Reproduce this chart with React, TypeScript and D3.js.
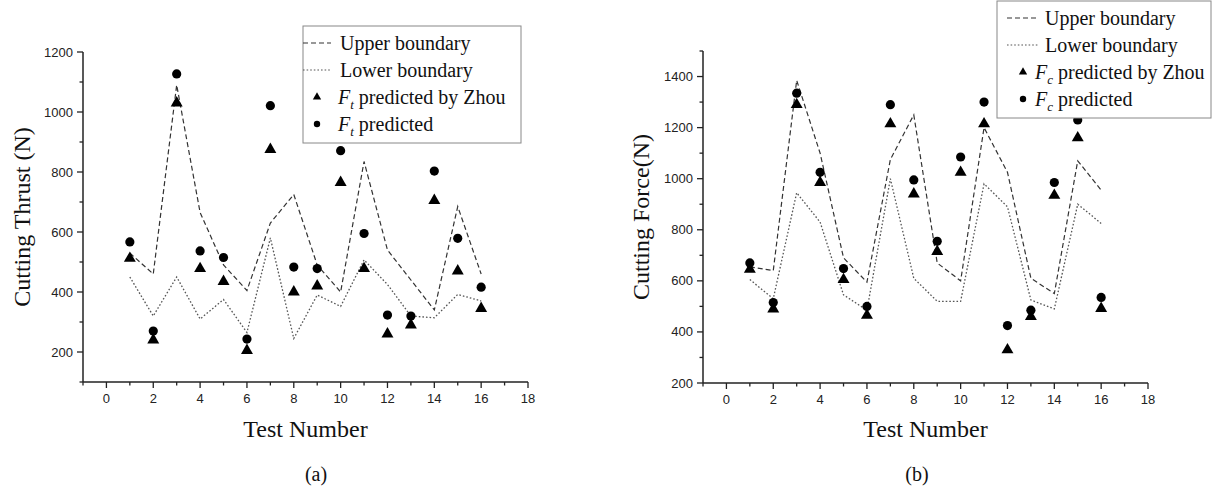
import React from 'react'
import * as d3 from 'd3'

// test numbers 1..16
const testNumbers = [1, 2, 3, 4, 5, 6, 7, 8, 9, 10, 11, 12, 13, 14, 15, 16]

// (a) cutting thrust, N
const thrustUpper = [530, 460, 1090, 665, 490, 405, 630, 725, 490, 400, 835, 540, 440, 340, 685, 460]
const thrustLower = [450, 320, 450, 310, 375, 265, 580, 245, 390, 352, 507, 425, 320, 314, 392, 370]
const thrustZhou = [512, 240, 1030, 478, 435, 205, 875, 400, 420, 765, 478, 260, 290, 705, 470, 345]
const thrustPred = [567, 270, 1127, 537, 515, 243, 1021, 483, 478, 871, 595, 323, 320, 803, 579, 416]

// (b) cutting force, N
const forceUpper = [655, 640, 1385, 1100, 690, 595, 1075, 1250, 670, 600, 1200, 1025, 610, 550, 1070, 955]
const forceLower = [605, 530, 945, 830, 545, 485, 1000, 610, 520, 520, 980, 890, 525, 490, 900, 825]
const forceZhou = [645, 490, 1290, 985, 605, 465, 1215, 940, 715, 1025, 1215, 330, 460, 935, 1160, 492]
const forcePred = [670, 515, 1335, 1025, 648, 500, 1290, 995, 755, 1085, 1300, 425, 485, 985, 1230, 535]

const xTicks = [0, 2, 4, 6, 8, 10, 12, 14, 16, 18]
const thrustTicks = [200, 400, 600, 800, 1000, 1200]
const forceTicks = [200, 400, 600, 800, 1000, 1200, 1400]

const SERIF = '"Liberation Serif", "Times New Roman", serif'
const SANS = '"Liberation Sans", Arial, sans-serif'

type PanelProps = {
  upper: number[]
  lower: number[]
  zhou: number[]
  pred: number[]
  yDomain: [number, number]
  yTicks: number[]
  xRange: [number, number]
  yRange: [number, number]
  yTitle: string
  yTitleX: number
  caption: string
  captionX: number
  sub: string
  legend: { x: number; y: number; w: number; h: number; rows: number[]; lineX: [number, number]; textX: number; fX: number }
}

function Panel(p: PanelProps) {
  const x = d3.scaleLinear().domain([-1, 18]).range(p.xRange)
  const y = d3.scaleLinear().domain(p.yDomain).range(p.yRange)
  const x0 = p.xRange[0]
  const y0 = p.yRange[0]

  const line = d3.line<number>().x((_, i) => x(testNumbers[i])).y(d => y(d))
  const tri = d3.symbol(d3.symbolTriangle, 62)()
  const triSmall = d3.symbol(d3.symbolTriangle, 30)()

  const xMinor = d3.range(-1, 18, 1).filter(v => !xTicks.includes(v))
  const yMinor = d3.range(p.yDomain[0], p.yDomain[1] + 1, 100).filter(v => !p.yTicks.includes(v))

  const lg = p.legend
  const midX = (lg.lineX[0] + lg.lineX[1]) / 2

  return (
    <g>
      {/* boundaries */}
      <path d={line(p.upper) || ''} fill="none" stroke="#333" strokeWidth={1.2} strokeDasharray="5,3" />
      <path d={line(p.lower) || ''} fill="none" stroke="#555" strokeWidth={1.3} strokeDasharray="1.6,2" />

      {/* points */}
      {p.zhou.map((v, i) => (
        <path key={'t' + i} d={tri || ''} transform={`translate(${x(testNumbers[i])},${y(v)})`} fill="#000" />
      ))}
      {p.pred.map((v, i) => (
        <circle key={'c' + i} cx={x(testNumbers[i])} cy={y(v)} r={4.6} fill="#000" />
      ))}

      {/* axes */}
      <line x1={x0} x2={p.xRange[1]} y1={y0} y2={y0} stroke="#222" strokeWidth={1.5} />
      <line x1={x0} x2={x0} y1={y0} y2={p.yRange[1]} stroke="#222" strokeWidth={1.5} />
      {xTicks.map(t => (
        <g key={'xt' + t}>
          <line x1={x(t)} x2={x(t)} y1={y0} y2={y0 + 6} stroke="#222" strokeWidth={1.3} />
          <text x={x(t)} y={y0 + 21} textAnchor="middle" fontFamily={SANS} fontSize={13} fill="#222">{t}</text>
        </g>
      ))}
      {xMinor.map(t => (
        <line key={'xm' + t} x1={x(t)} x2={x(t)} y1={y0} y2={y0 + 3.5} stroke="#222" strokeWidth={1.3} />
      ))}
      {p.yTicks.map(t => (
        <g key={'yt' + t}>
          <line x1={x0 - 6} x2={x0} y1={y(t)} y2={y(t)} stroke="#222" strokeWidth={1.3} />
          <text x={x0 - 10} y={y(t) + 4.5} textAnchor="end" fontFamily={SANS} fontSize={13} fill="#222">{t}</text>
        </g>
      ))}
      {yMinor.map(t => (
        <line key={'ym' + t} x1={x0 - 3.5} x2={x0} y1={y(t)} y2={y(t)} stroke="#222" strokeWidth={1.3} />
      ))}

      {/* titles */}
      <text
        transform={`translate(${p.yTitleX},${(p.yRange[0] + p.yRange[1]) / 2}) rotate(-90)`}
        textAnchor="middle" fontFamily={SERIF} fontSize={24} fill="#111"
      >{p.yTitle}</text>
      <text x={(p.xRange[0] + p.xRange[1]) / 2} y={437} textAnchor="middle" fontFamily={SERIF} fontSize={24} fill="#111">Test Number</text>
      <text x={p.captionX} y={481} textAnchor="middle" fontFamily={SERIF} fontSize={20} fill="#111">{p.caption}</text>

      {/* legend */}
      <rect x={lg.x} y={lg.y} width={lg.w} height={lg.h} fill="#fff" stroke="#888" strokeWidth={1} />
      <line x1={lg.lineX[0]} x2={lg.lineX[1]} y1={lg.rows[0]} y2={lg.rows[0]} stroke="#333" strokeWidth={1.2} strokeDasharray="5,3" />
      <text x={lg.textX} y={lg.rows[0] + 6.5} fontFamily={SERIF} fontSize={20} fill="#111">Upper boundary</text>
      <line x1={lg.lineX[0]} x2={lg.lineX[1]} y1={lg.rows[1]} y2={lg.rows[1]} stroke="#555" strokeWidth={1.2} strokeDasharray="1.6,2" />
      <text x={lg.textX} y={lg.rows[1] + 6.5} fontFamily={SERIF} fontSize={20} fill="#111">Lower boundary</text>
      <path d={triSmall || ''} transform={`translate(${midX},${lg.rows[2]})`} fill="#000" />
      <text x={lg.fX} y={lg.rows[2] + 6.5} fontFamily={SERIF} fontSize={20} fill="#111">
        <tspan fontStyle="italic">F</tspan>
        <tspan fontStyle="italic" fontSize={13} dy={5}>{p.sub}</tspan>
        <tspan dy={-5}> predicted by Zhou</tspan>
      </text>
      <circle cx={midX} cy={lg.rows[3]} r={3.2} fill="#000" />
      <text x={lg.fX} y={lg.rows[3] + 6.5} fontFamily={SERIF} fontSize={20} fill="#111">
        <tspan fontStyle="italic">F</tspan>
        <tspan fontStyle="italic" fontSize={13} dy={5}>{p.sub}</tspan>
        <tspan dy={-5}> predicted</tspan>
      </text>
    </g>
  )
}

export default function App() {
  return (
    <svg width={1212} height={488} style={{ position: 'absolute', left: 0, top: 0, background: '#fff' }}>
      <Panel
        upper={thrustUpper} lower={thrustLower} zhou={thrustZhou} pred={thrustPred}
        yDomain={[100, 1200]} yTicks={thrustTicks}
        xRange={[83, 528]} yRange={[382, 52]}
        yTitle="Cutting Thrust (N)" yTitleX={30}
        caption="(a)" captionX={316} sub="t"
        legend={{ x: 303, y: 26, w: 218, h: 117, rows: [43, 70, 97, 124], lineX: [303, 331], textX: 340, fX: 338 }}
      />
      <Panel
        upper={forceUpper} lower={forceLower} zhou={forceZhou} pred={forcePred}
        yDomain={[200, 1500]} yTicks={forceTicks}
        xRange={[703, 1148]} yRange={[383, 51]}
        yTitle="Cutting Force(N)" yTitleX={649}
        caption="(b)" captionX={917} sub="c"
        legend={{ x: 997, y: 1, w: 214, h: 117, rows: [18, 45, 72, 99], lineX: [1007, 1039], textX: 1045, fX: 1035 }}
      />
    </svg>
  )
}
